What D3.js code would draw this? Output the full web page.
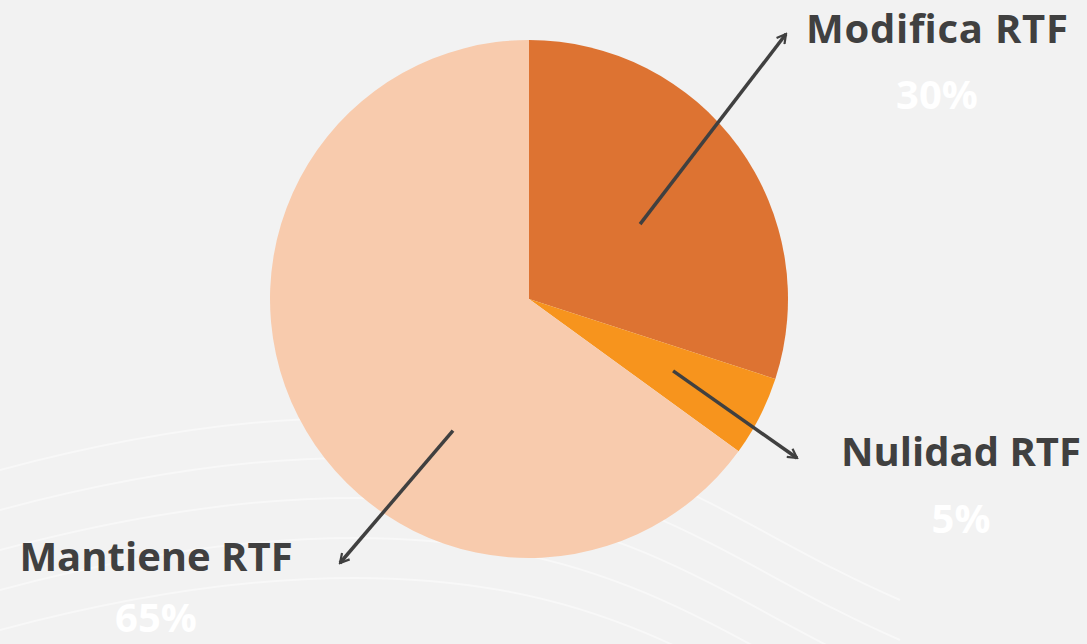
<!DOCTYPE html>
<html>
<head>
<meta charset="utf-8">
<script src="https://cdn.jsdelivr.net/npm/d3@7"></script>
<style>
  html, body { margin: 0; padding: 0; background: #f2f2f2; }
  svg { display: block; }
  .label { font-family: "Open Sans", Lato, sans-serif; font-weight: 700; fill: #404040; }
  .pct { font-family: "Open Sans", Lato, sans-serif; font-weight: 700; fill: #ffffff; }
</style>
</head>
<body>
<div id="chart"></div>
<script>
const categories = ['Modifica RTF', 'Nulidad RTF', 'Mantiene RTF'];
const values = [30, 5, 65];
const pctLabels = ['30%', '5%', '65%'];
const colors = ['#dd7332', '#f7941d', '#f8cbad'];

const width = 1087, height = 644;
const cx = 529, cy = 299, radius = 259;

// annotation layout: label centre, arrow start angle/radius, arrow tip, pct offset
const layout = {
  'Modifica RTF': { lx: 937, ly: 43, angle: 56, r: 134, tip: [786, 34], dy: 66 },
  'Nulidad RTF':  { lx: 961, ly: 466, angle: 116.5, r: 161, tip: [797, 458], dy: 67 },
  'Mantiene RTF': { lx: 156, ly: 571, angle: 210, r: 152, tip: [340, 563], dy: 61 }
};

const svg = d3.select('#chart').append('svg')
  .attr('width', width)
  .attr('height', height)
  .attr('viewBox', [0, 0, width, height]);

svg.append('rect').attr('width', width).attr('height', height).attr('fill', '#f2f2f2');

// faint decorative waves in the background
const waves = svg.append('g').attr('fill', 'none').attr('stroke', '#ffffff').attr('stroke-opacity', 0.45).attr('stroke-width', 2);
[0, 40, 80, 120, 160].forEach(off => {
  waves.append('path')
    .attr('d', `M0,${470 + off} C150,${430 + off} 330,${400 + off} 500,${430 + off} S760,${540 + off} 900,${600 + off}`);
});

svg.append('defs').append('marker')
  .attr('id', 'arrow')
  .attr('viewBox', '0 0 12 12')
  .attr('refX', 10).attr('refY', 6)
  .attr('markerWidth', 12).attr('markerHeight', 12)
  .attr('markerUnits', 'userSpaceOnUse')
  .attr('orient', 'auto')
  .append('path')
  .attr('d', 'M1,1 L10,6 L1,11')
  .attr('fill', 'none')
  .attr('stroke', '#404040')
  .attr('stroke-width', 2.2);

const data = categories.map((c, i) => ({ name: c, value: values[i], pct: pctLabels[i], color: colors[i] }));

const pie = d3.pie().sort(null).value(d => d.value);
const arc = d3.arc().innerRadius(0).outerRadius(radius);

const g = svg.append('g').attr('transform', `translate(${cx},${cy})`);

g.selectAll('path.slice')
  .data(pie(data))
  .join('path')
  .attr('class', 'slice')
  .attr('d', arc)
  .attr('fill', d => d.data.color);

// arrows
svg.selectAll('line.arrow')
  .data(data)
  .join('line')
  .attr('class', 'arrow')
  .attr('x1', d => cx + layout[d.name].r * Math.sin(layout[d.name].angle * Math.PI / 180))
  .attr('y1', d => cy - layout[d.name].r * Math.cos(layout[d.name].angle * Math.PI / 180))
  .attr('x2', d => layout[d.name].tip[0])
  .attr('y2', d => layout[d.name].tip[1])
  .attr('stroke', '#404040')
  .attr('stroke-width', 3.5)
  .attr('marker-end', 'url(#arrow)');

const labels = svg.selectAll('g.lab')
  .data(data)
  .join('g')
  .attr('class', 'lab')
  .attr('transform', d => `translate(${layout[d.name].lx},${layout[d.name].ly})`);

labels.append('text')
  .attr('class', 'label')
  .attr('text-anchor', 'middle')
  .attr('font-size', 40)
  .attr('textLength', d => d.name === 'Modifica RTF' ? 262 : null)
  .text(d => d.name);

labels.append('text')
  .attr('class', 'pct')
  .attr('text-anchor', 'middle')
  .attr('font-size', 40)
  .attr('y', d => layout[d.name].dy)
  .text(d => d.pct);
</script>
</body>
</html>
